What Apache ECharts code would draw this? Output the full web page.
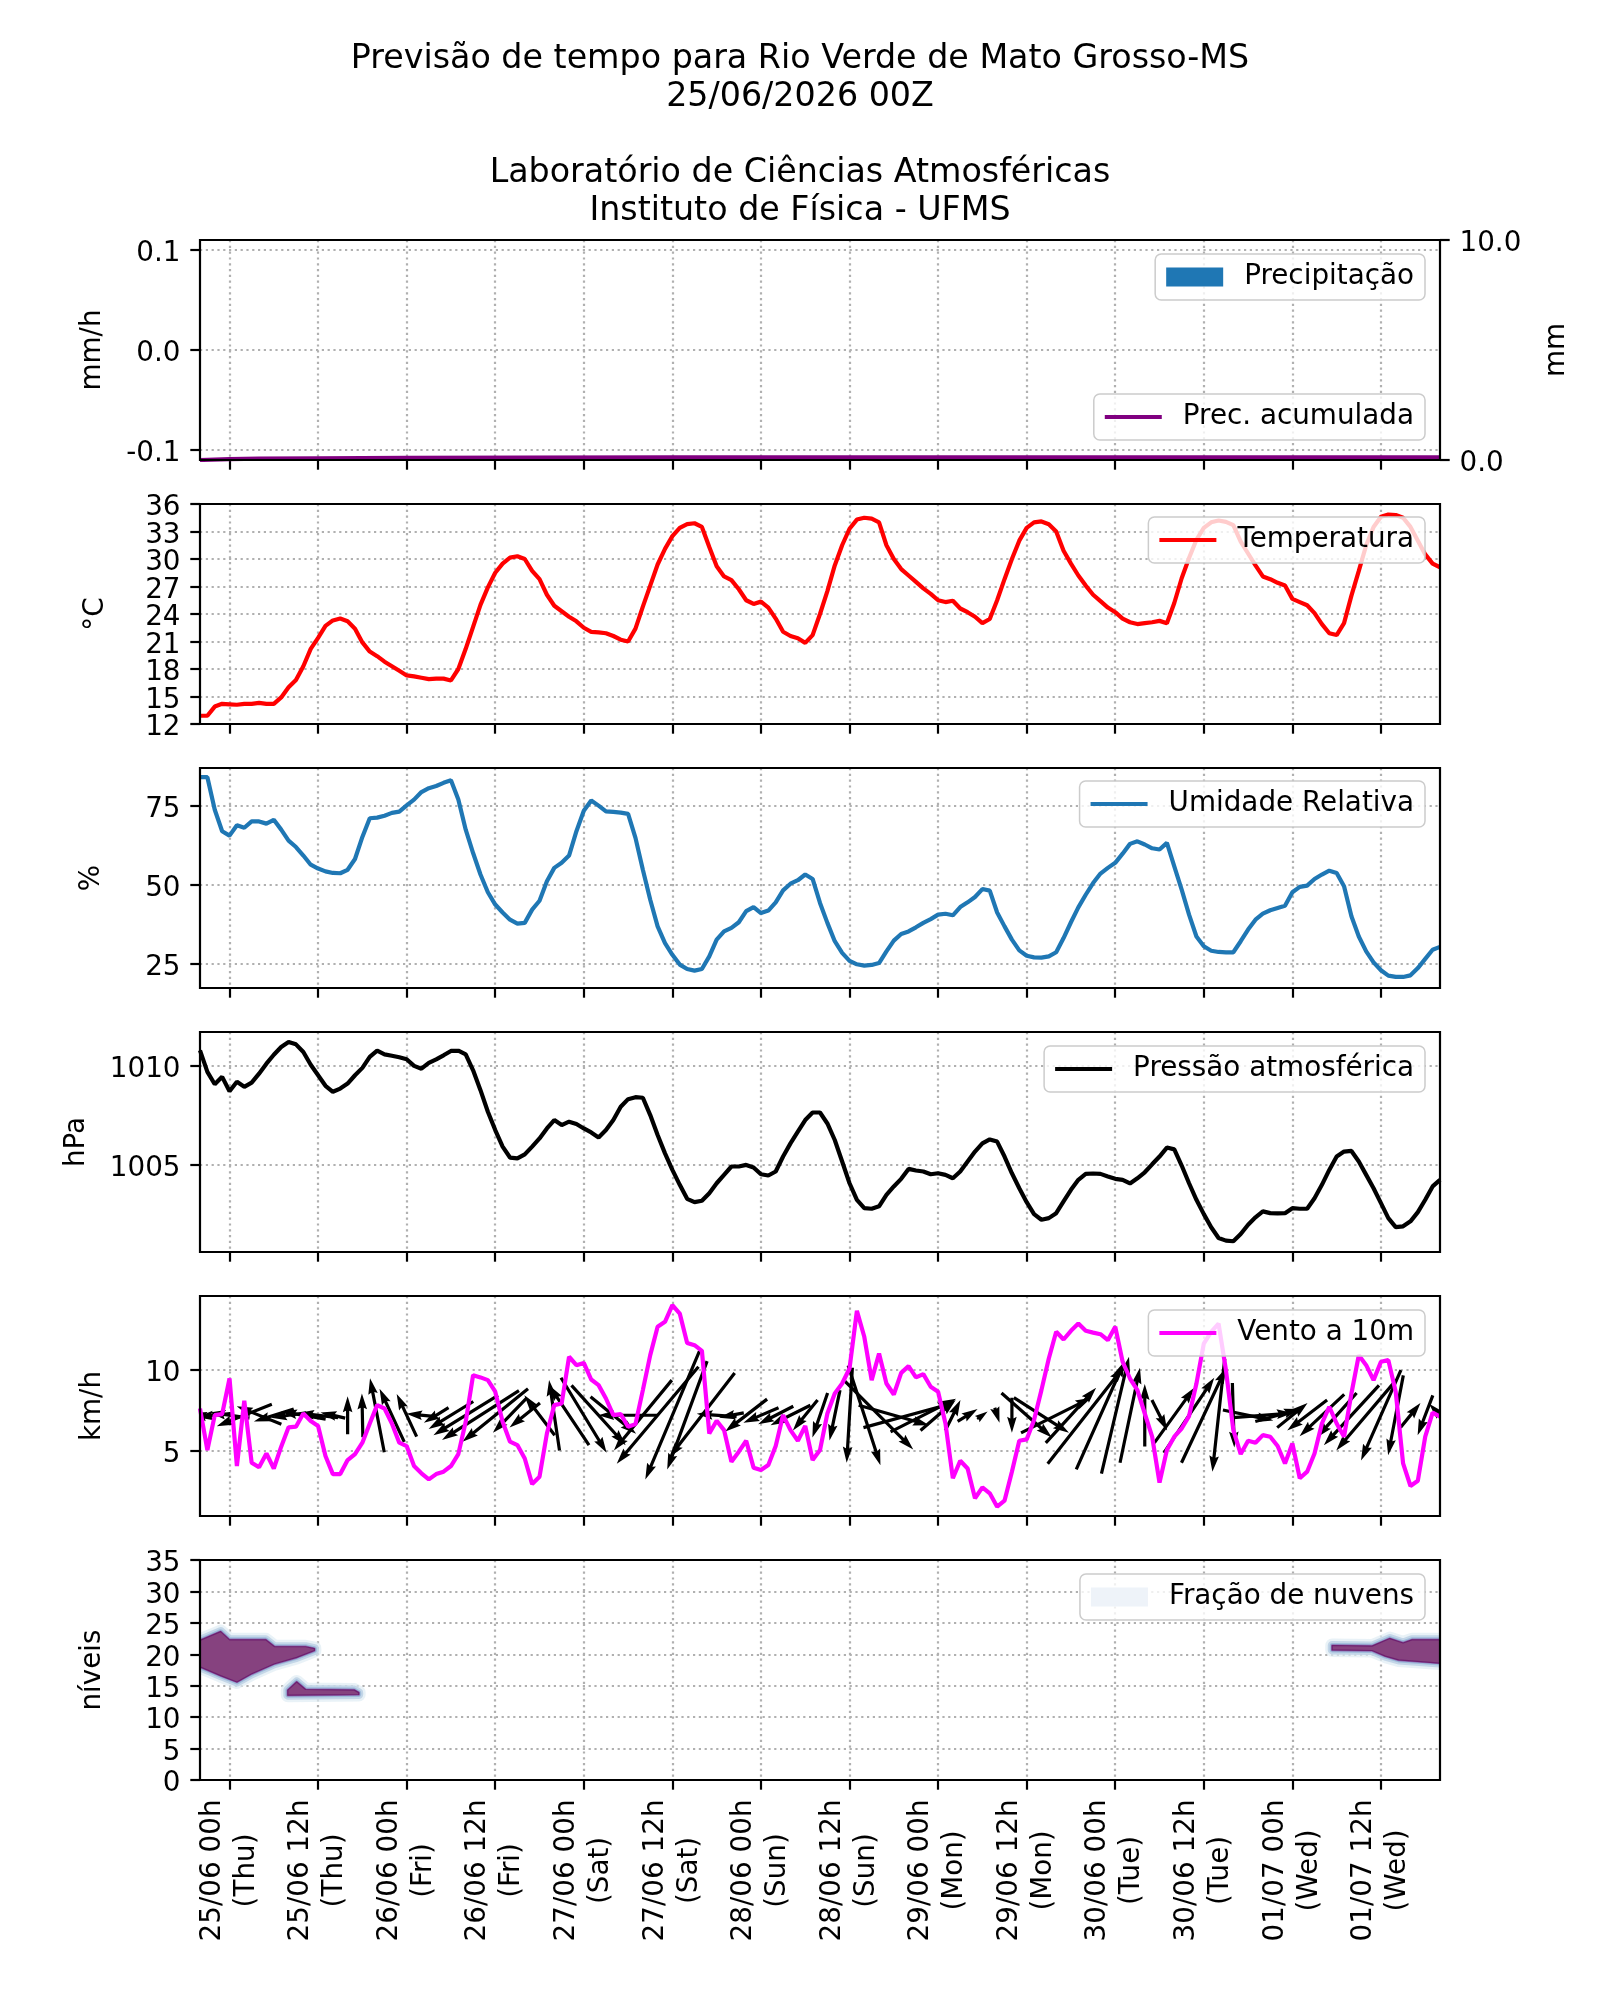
<!DOCTYPE html>
<html><head><meta charset="utf-8">
<script src="https://cdn.jsdelivr.net/npm/echarts@6/dist/echarts.min.js"></script>
<style>html,body{margin:0;padding:0;background:#fff}#c{width:1600px;height:2000px}</style>
</head><body><div id="c"></div>
<script>
// ---------------- DATA ----------------
const hours = []; for (let h = -4; h <= 164; h++) hours.push(h); // hourly, local time, 0 = 25/06 00h
const tickHours = [0,12,24,36,48,60,72,84,96,108,120,132,144,156];
const tickLabels = ['25/06 00h\n(Thu)','25/06 12h\n(Thu)','26/06 00h\n(Fri)','26/06 12h\n(Fri)','27/06 00h\n(Sat)','27/06 12h\n(Sat)','28/06 00h\n(Sun)','28/06 12h\n(Sun)','29/06 00h\n(Mon)','29/06 12h\n(Mon)','30/06 00h\n(Tue)','30/06 12h\n(Tue)','01/07 00h\n(Wed)','01/07 12h\n(Wed)'];

const precipitation = [0,0,0,0,
0,0,0,0,0,0,0,0,0,0,0,0, 0,0,0,0,0,0,0,0,0,0,0,0, 0,0,0,0,0,0,0,0,0,0,0,0, 0,0,0,0,0,0,0,0,0,0,0,0,
0,0,0,0,0,0,0,0,0,0,0,0, 0,0,0,0,0,0,0,0,0,0,0,0, 0,0,0,0,0,0,0,0,0,0,0,0, 0,0,0,0,0,0,0,0,0,0,0,0,
0,0,0,0,0,0,0,0,0,0,0,0, 0,0,0,0,0,0,0,0,0,0,0,0, 0,0,0,0,0,0,0,0,0,0,0,0, 0,0,0,0,0,0,0,0,0,0,0,0,
0,0,0,0,0,0,0,0,0,0,0,0, 0,0,0,0,0,0,0,0,0];
const accHours  = [-4, 0, 4, 12, 24, 40, 60, 164];
const accValues = [0.0, 0.04, 0.06, 0.08, 0.10, 0.11, 0.12, 0.12];

const temperature = [12.9,12.9,13.9,14.2,
14.15,14.1,14.2,14.2,14.3,14.2,14.2,14.9,16.0,16.8,18.3,20.2,
21.4,22.7,23.3,23.5,23.2,22.4,20.9,19.9,19.4,18.8,18.3,17.8,
17.3,17.2,17.05,16.9,16.95,16.95,16.75,18.0,20.2,22.6,25.0,26.9,
28.5,29.5,30.15,30.3,30.0,28.7,27.8,26.1,24.9,24.3,23.7,23.2,
22.5,22.06,22.0,21.9,21.6,21.2,21.0,22.4,24.8,27.1,29.4,31.1,
32.5,33.4,33.8,33.9,33.5,31.3,29.2,28.1,27.7,26.7,25.5,25.1,
25.35,24.7,23.5,22.06,21.6,21.35,20.85,21.7,24.0,26.5,29.3,31.5,
33.3,34.3,34.5,34.4,34.0,31.5,30.0,28.9,28.2,27.5,26.8,26.2,
25.5,25.3,25.45,24.6,24.2,23.7,23.0,23.45,25.5,27.8,30.0,32.0,
33.4,34.0,34.1,33.8,33.0,30.9,29.5,28.2,27.1,26.1,25.4,24.7,
24.2,23.5,23.1,22.9,23.0,23.1,23.25,23.0,25.2,27.9,30.1,32.1,
33.4,34.0,34.2,34.05,33.7,31.9,30.6,29.3,28.1,27.8,27.4,27.1,
25.65,25.3,24.95,24.1,22.9,21.9,21.7,23.0,26.0,28.7,31.5,33.5,
34.6,34.85,34.8,34.5,33.5,32.0,30.5,29.5,29.1];

const humidity = [83.9,83.9,73.6,66.8,
65.4,68.7,67.9,69.9,69.9,69.2,70.4,67.3,63.8,61.8,59.1,56.2,
55.0,54.1,53.6,53.5,54.6,58.0,65.0,70.9,71.1,71.7,72.6,73.0,
75.0,76.8,79.2,80.4,81.1,82.1,82.9,76.8,67.3,59.9,53.1,47.5,
43.6,41.1,38.8,37.55,37.8,42.0,44.8,51.0,55.2,56.8,59.1,66.8,
73.3,76.5,74.9,73.1,72.9,72.7,72.3,64.7,54.6,45.1,36.7,31.4,
27.7,24.6,23.2,22.7,23.2,27.2,32.5,35.1,36.2,38.0,41.5,42.8,
40.9,41.7,44.3,48.1,50.2,51.3,53.1,51.7,44.1,37.8,32.0,28.3,
25.8,24.7,24.3,24.5,25.1,28.8,32.2,34.3,35.1,36.4,37.8,39.0,
40.4,40.7,40.2,42.8,44.3,46.0,48.5,48.0,41.1,36.7,32.5,29.1,
27.4,26.9,26.8,27.2,28.5,33.0,38.0,42.7,46.7,50.4,53.4,55.2,
56.8,59.7,62.8,63.6,62.6,61.4,61.0,63.1,55.7,48.3,40.4,33.5,
30.4,29.0,28.6,28.5,28.5,32.0,35.7,38.8,40.7,41.8,42.5,43.2,
47.5,49.2,49.6,51.7,53.1,54.3,53.6,49.4,39.9,33.5,28.8,25.3,
22.8,21.1,20.7,20.7,21.2,23.5,26.4,29.3,30.2];

const pressure = [1010.75,1009.67,1009.05,1009.42,
1008.7,1009.17,1008.92,1009.13,1009.58,1010.08,1010.53,1010.92,1011.17,1011.05,1010.67,1010.03,
1009.5,1008.97,1008.67,1008.83,1009.08,1009.5,1009.87,1010.42,1010.73,1010.55,1010.48,1010.4,
1010.3,1009.97,1009.83,1010.12,1010.3,1010.5,1010.72,1010.73,1010.55,1009.75,1008.75,1007.67,
1006.75,1005.92,1005.37,1005.33,1005.53,1005.92,1006.33,1006.83,1007.25,1007.0,1007.17,1007.05,
1006.83,1006.63,1006.38,1006.75,1007.25,1007.92,1008.3,1008.4,1008.37,1007.5,1006.5,1005.58,
1004.75,1004.0,1003.3,1003.13,1003.2,1003.58,1004.08,1004.5,1004.92,1004.92,1005.0,1004.87,
1004.53,1004.47,1004.67,1005.42,1006.08,1006.67,1007.25,1007.63,1007.63,1007.08,1006.25,1005.17,
1004.08,1003.25,1002.83,1002.8,1002.92,1003.5,1003.92,1004.3,1004.8,1004.72,1004.67,1004.53,
1004.58,1004.5,1004.33,1004.67,1005.17,1005.67,1006.08,1006.28,1006.17,1005.42,1004.58,1003.83,
1003.13,1002.53,1002.25,1002.33,1002.58,1003.17,1003.75,1004.25,1004.55,1004.57,1004.55,1004.42,
1004.3,1004.25,1004.07,1004.33,1004.63,1005.03,1005.42,1005.87,1005.78,1004.97,1004.08,1003.25,
1002.53,1001.87,1001.33,1001.2,1001.17,1001.53,1002.0,1002.37,1002.67,1002.58,1002.57,1002.58,
1002.83,1002.8,1002.8,1003.33,1004.0,1004.75,1005.42,1005.67,1005.7,1005.17,1004.5,1003.83,
1003.08,1002.33,1001.88,1001.92,1002.17,1002.63,1003.25,1003.92,1004.25];

const windSpeed = [7.62,5.04,7.21,7.27,
9.48,4.05,8.1,4.26,3.97,4.83,3.9,5.25,6.45,6.49,7.31,6.84,
6.53,4.67,3.55,3.55,4.42,4.79,5.5,6.69,7.83,7.62,6.69,5.5,
5.29,4.05,3.6,3.22,3.55,3.7,4.05,4.79,6.8,9.69,9.55,9.38,
8.66,6.8,5.56,5.35,4.52,2.93,3.39,6.07,7.83,7.93,10.83,10.31,
10.45,9.42,9.07,8.24,7.21,7.27,6.49,6.65,8.76,10.93,12.69,13.0,
14.03,13.51,11.69,11.55,11.2,6.07,6.86,6.28,4.32,4.94,5.62,3.95,
3.8,4.11,5.29,7.21,6.28,5.62,6.53,4.42,5.04,7.31,8.55,9.17,
10.1,13.68,12.07,9.38,11.03,9.17,8.49,9.83,10.25,9.55,9.75,8.97,
8.66,6.69,3.29,4.38,3.9,2.05,2.73,2.36,1.53,1.9,3.7,5.62,
5.7,6.9,8.76,10.72,12.38,11.9,12.44,12.89,12.44,12.33,12.23,11.86,
12.69,10.52,9.48,8.76,7.31,5.87,3.02,5.04,5.87,6.38,7.15,9.17,
11.65,12.38,12.89,10.0,6.28,4.79,5.62,5.5,5.97,5.87,5.29,4.21,
5.45,3.29,3.7,4.83,6.69,7.73,6.69,5.87,8.55,10.93,10.31,9.38,
10.52,10.62,8.66,4.21,2.81,3.14,5.87,7.36,7.11];

// wind vectors (every 2 h), components in km/h (u east, v north)
const arrowBaseline = 7.2;
const arrowHours = [-4,-2,0,2,4,6,8,10,12,14,16,18,20,22,24,26,28,30,32,34,36,38,40,42,44,46,48,50,52,54,56,58,60,62,64,66,68,70,72,74,76,78,80,82,84,86,88,90,92,94,96,98,100,102,104,106,108,110,112,114,116,118,120,122,124,126,128,130,132,134,136,138,140,142,144,146,148,150,152,154,156,158,160,162,164];
const arrowU = [-1.9,-3.7,-4.2,-5.8,-4.7,-4.2,-3.7,-4.7,-4.2,-2.6,0.0,-0.1,-1.5,-2.6,-2.1,-3.2,-2.6,-4.7,-6.8,-8.1,-6.9,-3.6,-3.2,-3.2,-1.1,-4.2,4.8,5.7,4.8,-6.3,-6.1,-8.6,-5.7,-4.2,-6.9,-4.2,-2.6,-4.4,-3.7,-3.7,-4.2,-2.6,-1.6,-1.1,-0.6,3.4,7.2,7.4,9.5,6.9,3.7,1.6,2.1,1.1,0.5,0.0,5.3,5.8,7.4,5.3,8.0,5.1,2.9,2.1,0.0,1.6,4.2,5.3,4.7,-1.3,0.2,5.3,6.3,4.7,3.2,-4.2,-4.7,-4.2,-5.8,-6.3,-4.2,-1.6,2.1,-1.6,-2.3];
const arrowV = [0.4,-0.4,0.6,-2.3,1.9,-1.3,-0.5,0.8,0.5,0.6,4.0,4.6,7.8,5.6,4.5,0.3,-1.6,-2.9,-4.2,-5.2,-5.6,-3.7,-2.6,4.2,7.4,6.3,-7.9,-6.3,-3.9,0.0,-7.4,-10.2,-13.5,-11.4,-8.9,0.3,-0.5,-3.4,-1.6,-1.9,-2.1,-3.2,-4.7,-5.3,-10.0,-10.5,-7.2,-2.1,2.6,3.5,3.2,3.2,1.3,0.8,-1.6,-3.7,-4.7,-3.7,3.7,5.8,10.2,11.4,12.3,10.0,6.6,-3.2,5.8,7.9,10.0,-11.9,-6.8,-1.1,0.5,1.3,2.6,-3.2,-4.4,-4.7,-6.3,-7.4,-9.5,-8.4,2.6,-4.2,2.4];

// cloud fraction regions (model levels), outlines
const cloudA_topHours = [-4, -1.2, 0, 4.9, 6.1, 10.3, 11.5];
const cloudA_top      = [22.2, 23.6, 22.3, 22.3, 21.2, 21.2, 20.9];
const cloudA_botHours = [-4, -1.2, 1.0, 3.0, 6.1, 9.1, 11.5];
const cloudA_bot      = [18.0, 16.6, 15.6, 16.9, 18.5, 19.5, 20.6];
const cloudB_topHours = [7.9, 9.1, 10.3, 16.9, 17.5];
const cloudB_top      = [14.3, 15.6, 14.4, 14.3, 13.9];
const cloudB_botHours = [7.9, 17.5];
const cloudB_bot      = [13.5, 13.6];
const cloudC_topHours = [149.4, 154.8, 157.2, 159.0, 160.2, 164];
const cloudC_top      = [21.4, 21.3, 22.5, 21.8, 22.3, 22.3];
const cloudC_botHours = [149.4, 154.8, 156.6, 158.4, 164];
const cloudC_bot      = [20.7, 20.6, 19.7, 19.1, 18.6];

// ---------------- CHART ----------------
const FONT = 'DejaVu Sans';
const FS = 27.8;
const pairs = (xs, ys) => xs.map((x, i) => [x, ys[i]]);
const GRID_TOP = [240, 504, 768, 1032, 1296, 1560];
const gridLine = {show: true, lineStyle: {color: '#b0b0b0', width: 2.2, type: [2.2, 3.6]}};
const tickStyle = {color: '#000', width: 2.2};

const grids = GRID_TOP.map(t => ({left: 200, right: 160, top: t, height: 220, show: true, z: 5,
  borderColor: '#000', borderWidth: 2.2, backgroundColor: 'rgba(0,0,0,0)', containLabel: false, outerBoundsMode: 'none'}));

function fmtX(v) {
  const k = tickHours.indexOf(v);
  if (k < 0) return '';
  const p = tickLabels[k].split('\n');
  return '{a|' + p[0] + '}\n{a|' + p[1] + '}';
}
const xAxes = GRID_TOP.map((t, i) => ({
  gridIndex: i, type: 'value', min: -4, max: 164,
  axisLine: {show: false, onZero: false},
  axisTick: {show: true, customValues: tickHours, length: 9.7, lineStyle: tickStyle},
  axisLabel: i === 5 ? {show: true, customValues: tickHours, rotate: 90, margin: 19.5, formatter: fmtX,
    showMinLabel: true, showMaxLabel: true, hideOverlap: false,
    rich: {a: {fontFamily: FONT, fontSize: FS, lineHeight: 34, align: 'center', color: '#000'}}} : {show: false},
  splitLine: gridLine
}));

function yAx(gi, min, max, ticks, fmt, name, gap, extra) {
  const ax = {gridIndex: gi, type: 'value', min: min, max: max, axisLine: {show: false, onZero: false},
    axisTick: {show: true, length: 9.7, lineStyle: tickStyle, customValues: ticks},
    axisLabel: {customValues: ticks, margin: 19.5, formatter: v => '{v|' + fmt(v) + '}',
      showMinLabel: true, showMaxLabel: true, hideOverlap: false,
      rich: {v: {fontFamily: FONT, fontSize: FS, color: '#000', lineHeight: 18, padding: [8, 0, 0, 0]}}},
    splitLine: gridLine, name: name, nameLocation: 'middle', nameRotate: 90, nameGap: gap,
    nameTextStyle: {fontFamily: FONT, fontSize: FS, color: '#000'}};
  return Object.assign(ax, extra || {});
}
const f1 = v => v.toFixed(1);
const f0 = v => String(Math.round(v));
const noGrid = {position: 'left', offset: 0, splitLine: {show: false}};
const yAxes = [
  yAx(0, -0.11, 0.11, [-0.1, 0, 0.1], f1, 'mm/h', 93, {position: 'left'}),
  yAx(0, 0, 10, [0, 10], f1, 'mm', 103, {position: 'right', splitLine: {show: false}}),
  yAx(1, 12, 36, [18, 24, 30], f0, '°C', 90, {position: 'left'}),
  yAx(2, 17.2, 86.8, [25, 50, 75], f0, '%', 94, {position: 'left'}),
  yAx(3, 1000.63, 1011.67, [1005, 1010], f0, 'hPa', 109, {position: 'left'}),
  yAx(4, 0.95, 14.6, [5, 10], f0, 'km/h', 93, {position: 'left'}),
  yAx(5, 0, 35, [10, 20, 30], f0, 'níveis', 93, {position: 'left'}),
  // twin axes sharing the same scales carry the remaining ticks (so no label is dropped as overlapping)
  yAx(1, 12, 36, [15, 21, 27, 33], f0, '', 90, {position: 'left', offset: 0}),
  yAx(5, 0, 35, [5, 15, 25], f0, '', 93, {position: 'left', offset: 0}),
  yAx(1, 12, 36, [12, 36], f0, '', 90, noGrid),
  yAx(5, 0, 35, [0, 35], f0, '', 93, noGrid)
];

const legendCommon = {orient: 'vertical', right: 175, backgroundColor: 'rgba(255,255,255,0.8)',
  borderColor: '#cccccc', borderWidth: 1.5, borderRadius: 6, padding: [9, 11, 9, 11],
  itemWidth: 57, itemHeight: 19, selectedMode: false,
  textStyle: {fontFamily: FONT, fontSize: FS, color: '#000', padding: [0, 0, 0, 16]}};
const L = o => Object.assign({}, legendCommon, o);
const lineItem = n => ({name: n, icon: 'rect'});
const legends = [
  L({top: 254, data: [{name: 'Precipitação', icon: 'rect'}]}),
  L({top: 394, itemHeight: 4.2, data: [lineItem('Prec. acumulada')]}),
  L({top: 517, itemHeight: 4.2, data: [lineItem('Temperatura')]}),
  L({top: 781, itemHeight: 4.2, data: [lineItem('Umidade Relativa')]}),
  L({top: 1046, itemHeight: 4.2, data: [lineItem('Pressão atmosférica')]}),
  L({top: 1310, itemHeight: 4.2, data: [lineItem('Vento a 10m')]}),
  L({top: 1574, data: [{name: 'Fração de nuvens', icon: 'rect'}]})
];

const ARROW_SCALE = 9.5; // px per km/h
function renderArrow(params, api) {
  const h = api.value(0), u = api.value(1), v = api.value(2);
  const c = api.coord([h, arrowBaseline]);
  const dx = u * ARROW_SCALE, dy = -v * ARROW_SCALE;
  const len = Math.hypot(dx, dy);
  if (len < 0.5) return null;
  const ux = dx / len, uy = dy / len, px = -uy, py = ux;
  let w = 3.2, HL = 5 * w, HA = 4.5 * w, HW = 3 * w;
  if (len < HL) { const s = len / HL; w *= s; HL *= s; HA *= s; HW *= s; }
  const tip = [c[0] + dx / 2, c[1] + dy / 2];
  const tail = [c[0] - dx / 2, c[1] - dy / 2];
  const at = (t, n) => [tip[0] - ux * t + px * n, tip[1] - uy * t + py * n];
  const pts = [[tail[0] + px * w / 2, tail[1] + py * w / 2], at(HA, w / 2), at(HL, HW / 2), tip,
    at(HL, -HW / 2), at(HA, -w / 2), [tail[0] - px * w / 2, tail[1] - py * w / 2]];
  return {type: 'polygon', shape: {points: pts}, style: {fill: '#000'}};
}

const cloudSets = [
  [cloudA_topHours, cloudA_top, cloudA_botHours, cloudA_bot],
  [cloudB_topHours, cloudB_top, cloudB_botHours, cloudB_bot],
  [cloudC_topHours, cloudC_top, cloudC_botHours, cloudC_bot]
];
function renderCloud(params, api) {
  const s = cloudSets[params.dataIndex];
  const pts = [];
  for (let i = 0; i < s[0].length; i++) pts.push(api.coord([s[0][i], s[1][i]]));
  for (let i = s[2].length - 1; i >= 0; i--) pts.push(api.coord([s[2][i], s[3][i]]));
  const layer = (stroke, lw, fill, op) => ({type: 'polygon', shape: {points: pts},
    style: {fill: fill, stroke: stroke, lineWidth: lw, lineJoin: 'round', opacity: op}});
  return {type: 'group', children: [
    layer('#e0ecf4', 14, '#e0ecf4', 0.7),
    layer('#bfd3e6', 9, '#bfd3e6', 0.9),
    layer('#9ebcda', 5, '#9ebcda', 1),
    layer('#8c6bb1', 2.5, '#8c6bb1', 1),
    layer('#6e1f6e', 1.2, '#86427f', 1)
  ]};
}

const option = {
  animation: false,
  backgroundColor: '#ffffff',
  title: [
    {text: 'Previsão de tempo para Rio Verde de Mato Grosso-MS\n25/06/2026 00Z', left: 'center', top: 40, padding: 0,
      textStyle: {fontFamily: FONT, fontSize: 33.3, fontWeight: 'normal', color: '#000', lineHeight: 38}},
    {text: 'Laboratório de Ciências Atmosféricas\nInstituto de Física - UFMS', left: 'center', top: 154, padding: 0,
      textStyle: {fontFamily: FONT, fontSize: 33.3, fontWeight: 'normal', color: '#000', lineHeight: 38}}
  ],
  grid: grids, xAxis: xAxes, yAxis: yAxes, legend: legends,
  series: [
    {name: 'Precipitação', type: 'bar', xAxisIndex: 0, yAxisIndex: 0, data: pairs(hours, precipitation),
      itemStyle: {color: '#1f77b4'}, barWidth: 6},
    {name: 'Prec. acumulada', type: 'line', xAxisIndex: 0, yAxisIndex: 1, data: pairs(accHours, accValues),
      symbol: 'none', lineStyle: {color: '#800080', width: 4.2}, itemStyle: {color: '#800080'}},
    {name: 'Temperatura', type: 'line', xAxisIndex: 1, yAxisIndex: 2, data: pairs(hours, temperature),
      symbol: 'none', lineStyle: {color: '#ff0000', width: 4.2}, itemStyle: {color: '#ff0000'}},
    {name: 'Umidade Relativa', type: 'line', xAxisIndex: 2, yAxisIndex: 3, data: pairs(hours, humidity),
      symbol: 'none', lineStyle: {color: '#1f77b4', width: 4.2}, itemStyle: {color: '#1f77b4'}},
    {name: 'Pressão atmosférica', type: 'line', xAxisIndex: 3, yAxisIndex: 4, data: pairs(hours, pressure),
      symbol: 'none', lineStyle: {color: '#000000', width: 4.2}, itemStyle: {color: '#000000'}},
    {name: 'vetores', type: 'custom', xAxisIndex: 4, yAxisIndex: 5, clip: true, z: 2,
      data: arrowHours.map((h, i) => [h, arrowU[i], arrowV[i]]), encode: {x: 0, y: -1}, renderItem: renderArrow},
    {name: 'Vento a 10m', type: 'line', xAxisIndex: 4, yAxisIndex: 5, data: pairs(hours, windSpeed), z: 3,
      symbol: 'none', lineStyle: {color: '#ff00ff', width: 4.2}, itemStyle: {color: '#ff00ff'}},
    {name: 'Fração de nuvens', type: 'custom', xAxisIndex: 5, yAxisIndex: 6, clip: true,
      data: [[0], [1], [2]], encode: {x: -1, y: -1}, renderItem: renderCloud, itemStyle: {color: '#eef3f9'}}
  ]
};
const chart = echarts.init(document.getElementById('c'), null, {renderer: 'canvas', width: 1600, height: 2000});
chart.setOption(option);
</script></body></html>
